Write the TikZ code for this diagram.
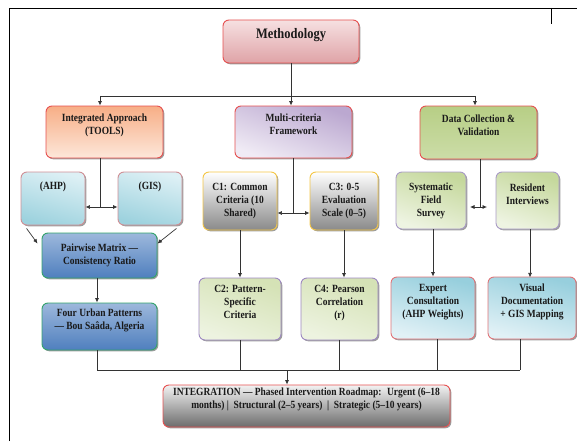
\documentclass[tikz,border=0pt]{standalone}
\usepackage{fontspec}
\setmainfont{Liberation Serif}[FakeStretch=0.86]
\usetikzlibrary{arrows.meta,shadows,calc}
\definecolor{methD}{HTML}{DFA3A7}
\definecolor{methM}{HTML}{F1D2D4}
\definecolor{methL}{HTML}{F6E0E1}
\definecolor{redB}{HTML}{E65050}
\definecolor{intT}{HTML}{F7AE86}
\definecolor{intB}{HTML}{FDE7DA}
\definecolor{mulT}{HTML}{BBA8D0}
\definecolor{mulB}{HTML}{F0EBF5}
\definecolor{datT}{HTML}{B7CE85}
\definecolor{datM}{HTML}{9BBB59}
\definecolor{datB}{HTML}{CCDDA8}
\definecolor{cyT}{HTML}{DDF0F5}
\definecolor{cyB}{HTML}{9DD2DE}
\definecolor{pinkB}{HTML}{CF8F95}
\definecolor{exT}{HTML}{97CFDD}
\definecolor{exB}{HTML}{E1F1F6}
\definecolor{exBd}{HTML}{E07478}
\definecolor{blT}{HTML}{9DB8DC}
\definecolor{blB}{HTML}{4F7FBE}
\definecolor{grnB}{HTML}{33A36B}
\definecolor{gB}{HTML}{8A8A8A}
\definecolor{goldB}{HTML}{F4C646}
\definecolor{c2T}{HTML}{D5E2B6}
\definecolor{c2B}{HTML}{EDF3E0}
\definecolor{purB}{HTML}{9D88C0}
\definecolor{sfT}{HTML}{C5D89C}
\definecolor{sfB}{HTML}{EEF4E2}
\definecolor{lpurB}{HTML}{A99BC6}
\definecolor{inT}{HTML}{F2F2F2}
\definecolor{inB}{HTML}{6C6C6C}
\begin{document}
\begin{tikzpicture}[x=1pt,y=-1pt,
  box/.style={draw, rounded corners=6pt, line width=0.9pt, align=center,
    inner sep=0pt, font=\fontsize{11}{13}\selectfont\bfseries, text=black!90,
    drop shadow={shadow xshift=1.3pt, shadow yshift=-1.3pt, opacity=0.55, fill=black!70}},
  sz/.style 2 args={minimum width=#1pt, minimum height=#2pt},
  methsty/.style={draw=redB, top color=methL, middle color=methM, bottom color=methD},
  intsty/.style={draw=redB, top color=intT, bottom color=intB},
  mulsty/.style={draw=redB, top color=mulT, bottom color=mulB, shading angle=-20},
  datsty/.style={draw=redB, top color=datT, middle color=datM, bottom color=datB},
  cysty/.style={draw=pinkB, top color=cyT, bottom color=cyB, shading angle=-15},
  exsty/.style={draw=exBd, top color=exT, bottom color=exB, shading angle=-15},
  blsty/.style={draw=grnB, top color=blT, bottom color=blB},
  gsty/.style={draw=goldB, top color=white, bottom color=gB},
  c2sty/.style={draw=purB, top color=c2T, bottom color=c2B, shading angle=-20},
  sfsty/.style={draw=lpurB, top color=sfT, bottom color=sfB, shading angle=-20},
  insty/.style={draw=redB, top color=inT, bottom color=inB},
  ln/.style={draw=black!80, line width=0.7pt},
  arr/.style={ln, -{Latex[length=4.5pt,width=4pt]}},
  darr/.style={ln, {Latex[length=4.5pt,width=4pt]}-{Latex[length=4.5pt,width=4pt]}},
]
\useasboundingbox (0,0) rectangle (577,441);
% frame
\draw[line width=0.9pt] (9,441) -- (9,8) -- (577,8);
\draw[line width=0.9pt] (551,8) -- (551,24);

% nodes
\node[box, sz={136}{43}, methsty] (meth) at (291,41.5) {\fontsize{14.5}{16}\selectfont Methodology\\[3pt]};
\node[box, sz={117}{52}, intsty] (integ) at (104.5,132) {Integrated Approach\\(TOOLS)\\[2pt]};
\node[box, sz={117}{52}, mulsty] (multi) at (293.5,132) {Multi-criteria\\Framework\\[2pt]};
\node[box, sz={117}{53}, datsty] (data) at (478.5,132.5) {Data Collection \&\\Validation\\[2pt]};
\node[box, sz={64}{53}, cysty] (ahp) at (53,198.5) {(AHP)\\~\\~};
\node[box, sz={64}{53}, cysty] (gis) at (150,198.5) {(GIS)\\~\\~};
\node[box, sz={74}{58}, gsty] (c1) at (240,201) {C1: Common\\Criteria (10\\Shared)};
\node[box, sz={68}{58}, gsty] (c3) at (344,201) {C3: 0-5\\Evaluation\\Scale (0–5)};
\node[box, sz={70}{57}, sfsty] (sfs) at (431,200.5) {Systematic\\Field\\Survey};
\node[box, sz={63}{57}, sfsty] (res) at (527.5,200.5) {Resident\\Interviews\\~};
\node[box, sz={115}{45}, blsty] (pair) at (99.5,255.5) {Pairwise Matrix —\\Consistency Ratio};
\node[box, sz={115}{47}, blsty] (four) at (99.5,326.5) {Four Urban Patterns\\— Bou Saâda, Algeria\\[2pt]};
\node[box, sz={82}{62}, c2sty] (c2) at (240,309) {C2: Pattern-\\Specific\\Criteria\\[2pt]};
\node[box, sz={77}{62}, c2sty] (c4) at (339.5,309) {C4: Pearson\\Correlation\\(r)\\[2pt]};
\node[box, sz={84}{62}, exsty] (exp) at (433,308) {Expert\\Consultation\\(AHP Weights)\\[2pt]};
\node[box, sz={88}{62}, exsty] (vis) at (532,308) {Visual\\Documentation\\+ GIS Mapping\\[2pt]};
\node[box, sz={287}{42}, insty] (final) at (306.5,406) {INTEGRATION — Phased Intervention Roadmap:~ Urgent (6–18\\months) | ~Structural (2–5 years) ~| ~Strategic (5–10 years)\\[2pt]};

% top bus
\coordinate (busL) at (100,96);
\coordinate (busR) at (475,96);
\draw[ln] (meth.south) -- (meth.south |- busL);
\draw[ln] (busL) -- (busR);
\draw[arr] (busL) -- (busL |- integ.north);
\draw[arr] (meth.south |- busL) -- (meth.south |- multi.north);
\draw[arr] (busR) -- (busR |- data.north);

% integrated approach
\coordinate (jI) at (100,207);
\draw[ln] (jI |- integ.south) -- (jI);
\draw[darr] (ahp.east |- jI) -- (gis.west |- jI);
\draw[arr] ($(ahp.south west)+(6,3)$) -- ($(pair.north west)+(-4,11)$);
\draw[arr] ($(gis.south east)+(-6,3)$) -- ($(pair.north east)+(0,11)$);
\draw[arr] ($(pair.south)+(-2.5,0)$) -- ($(four.north)+(-2.5,0)$);

% multi-criteria
\coordinate (jM) at (293.5,213);
\draw[ln] (multi.south) -- (jM);
\draw[darr] (c1.east |- jM) -- (c3.west |- jM);
\draw[arr] (c1.south) -- (c2.north);
\draw[arr] (c3.south) -- (c3.south |- c4.north);

% data collection
\coordinate (jD) at (480,207);
\draw[ln] (jD |- data.south) -- (jD);
\draw[darr] ($(jD)+(-10,0)$) -- ($(jD)+(7,0)$);
\draw[arr] (exp.north |- sfs.south) -- (exp.north);
\draw[arr] ($(res.south)+(2.5,0)$) -- ($(res.south)+(2.5,48)$);

% bottom bus
\coordinate (bL) at (97,370);
\coordinate (bR) at (520,370);
\coordinate (bA) at (287,370);
\draw[ln] (bL) -- (bR);
\draw[ln] (bL |- four.south) -- (bL);
\draw[ln] (c2.south) -- (c2.south |- bL);
\draw[ln] (c4.south) -- (c4.south |- bL);
\draw[ln] ($(exp.south)+(4,0)$) -- ($(exp.south)+(4,31)$);
\draw[ln] (bR |- vis.south) -- (bR);
\draw[arr] (bA) -- (bA |- final.north);
\end{tikzpicture}
\end{document}
